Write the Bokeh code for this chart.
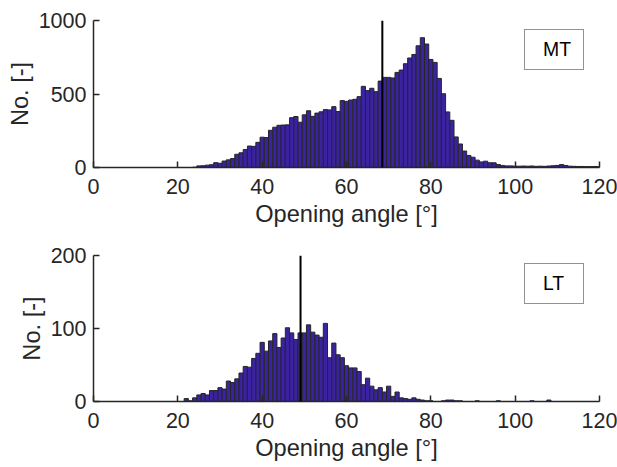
from bokeh.plotting import figure
from bokeh.models import FixedTicker, Span, Legend, LegendItem, Range1d
from bokeh.layouts import column
from bokeh.embed import file_html
from bokeh.resources import INLINE

# ---------------- data ----------------
angles = list(range(0, 121))  # bin centres [deg]

mt_counts = [
    0, 0, 0, 0, 0, 0, 0, 0, 0, 0,            # 0-9
    0, 0, 0, 0, 0, 0, 0, 0, 0, 0,            # 10-19
    0, 0, 0, 0, 2, 11, 12, 16, 19, 33,       # 20-29
    29, 44, 52, 61, 90, 100, 122, 146, 144, 171,   # 30-39
    206, 204, 253, 274, 287, 289, 290, 339, 347, 308,  # 40-49
    358, 386, 348, 370, 379, 394, 392, 414, 381, 455,  # 50-59
    450, 459, 464, 482, 552, 523, 539, 516, 588, 613,  # 60-69
    613, 609, 647, 663, 706, 745, 769, 828, 883, 840,  # 70-79
    735, 715, 606, 502, 378, 321, 208, 160, 112, 82,   # 80-89
    70, 50, 38, 43, 32, 32, 20, 14, 11, 11,            # 90-99
    9, 9, 10, 9, 10, 8, 9, 8, 10, 12,                  # 100-109
    14, 20, 14, 9, 8, 7, 7, 6, 6, 7,                   # 110-119
    5,                                                 # 120
]

lt_counts = [
    0, 0, 0, 0, 0, 0, 0, 0, 0, 0,            # 0-9
    0, 0, 0, 0, 0, 0, 0, 0, 0, 0,            # 10-19
    0, 0, 4, 1, 5, 9, 11, 9, 15, 15,         # 20-29
    19, 17, 28, 26, 31, 39, 48, 47, 59, 66,  # 30-39
    81, 69, 83, 93, 74, 87, 101, 94, 85, 94, # 40-49
    94, 105, 95, 91, 88, 107, 60, 80, 64, 60,  # 50-59
    49, 46, 46, 41, 23, 32, 21, 16, 19, 13,  # 60-69
    21, 7, 13, 5, 4, 3, 5, 3, 2, 1,          # 70-79
    1, 0, 0, 1, 2, 2, 1, 1, 0, 0,            # 80-89
    0, 1, 0, 0, 0, 0, 1, 0, 0, 0,            # 90-99
    0, 0, 0, 0, 1, 0, 0, 0, 2, 0,            # 100-109
    0, 0, 0, 0, 0, 0, 0, 0, 0, 0,            # 110-119
    0,                                       # 120
]

mt_median = 68.5
lt_median = 49.1

x_ticks = [0, 20, 40, 60, 80, 100, 120]
mt_y_ticks = [0, 500, 1000]
lt_y_ticks = [0, 100, 200]

# ---------------- style ----------------
FONT = "Liberation Sans"
TXT = "#262626"
BAR_FILL = "#3a22a0"
BAR_EDGE = "#262626"
TICK_FS = "21.5px"
LABEL_FS = "23.6px"
LEGEND_FS = "19.4px"


def panel(counts, median, yticks, label, height, b_top, b_bottom):
    p = figure(width=617, height=height,
               x_range=Range1d(0, 120), y_range=Range1d(0, yticks[-1]),
               output_backend="svg", toolbar_location=None,
               min_border_left=93, min_border_right=18,
               min_border_top=b_top, min_border_bottom=b_bottom)
    p.vbar(x=angles, top=counts, width=1,
           fill_color=BAR_FILL, line_color=BAR_EDGE, line_width=1)
    p.add_layout(Span(location=median, dimension="height",
                      line_color="black", line_width=2))

    dummy = p.line(x=[], y=[], line_alpha=0)
    leg = Legend(items=[LegendItem(label=label, renderers=[dummy])],
                 location=(431, 97), padding=8, glyph_width=5,
                 label_standoff=5, label_width=32, spacing=0,
                 margin=0,
                 border_line_color=TXT, border_line_width=1.2,
                 background_fill_color="white", background_fill_alpha=1,
                 label_text_font=FONT, label_text_font_size=LEGEND_FS,
                 label_text_color="black")
    p.add_layout(leg, "center")

    p.xaxis.ticker = FixedTicker(ticks=x_ticks)
    p.yaxis.ticker = FixedTicker(ticks=yticks)
    p.xaxis.axis_label = "Opening angle [°]"
    p.yaxis.axis_label = "No. [-]"
    for ax in (p.xaxis, p.yaxis):
        ax.axis_line_color = TXT
        ax.axis_line_width = 1.5
        ax.major_tick_line_color = TXT
        ax.major_tick_line_width = 1.5
        ax.major_tick_in = 6
        ax.major_tick_out = 0
        ax.minor_tick_line_color = None
        ax.major_label_text_font = FONT
        ax.major_label_text_font_size = TICK_FS
        ax.major_label_text_color = TXT
        ax.axis_label_text_font = FONT
        ax.axis_label_text_font_size = LABEL_FS
        ax.axis_label_text_font_style = "normal"
        ax.axis_label_text_color = TXT
    p.xaxis.major_label_standoff = 11
    p.yaxis.major_label_standoff = 7
    p.xaxis.axis_label_standoff = 4
    p.yaxis.axis_label_standoff = 3
    p.xgrid.grid_line_color = None
    p.ygrid.grid_line_color = None
    p.outline_line_color = None
    return p


p1 = panel(mt_counts, mt_median, mt_y_ticks, "MT", 235, 20, 68)
p2 = panel(lt_counts, lt_median, lt_y_ticks, "LT", 232, 20, 66)

layout = column(p1, p2, spacing=0)
open("out.html", "w").write(file_html(layout, INLINE))
